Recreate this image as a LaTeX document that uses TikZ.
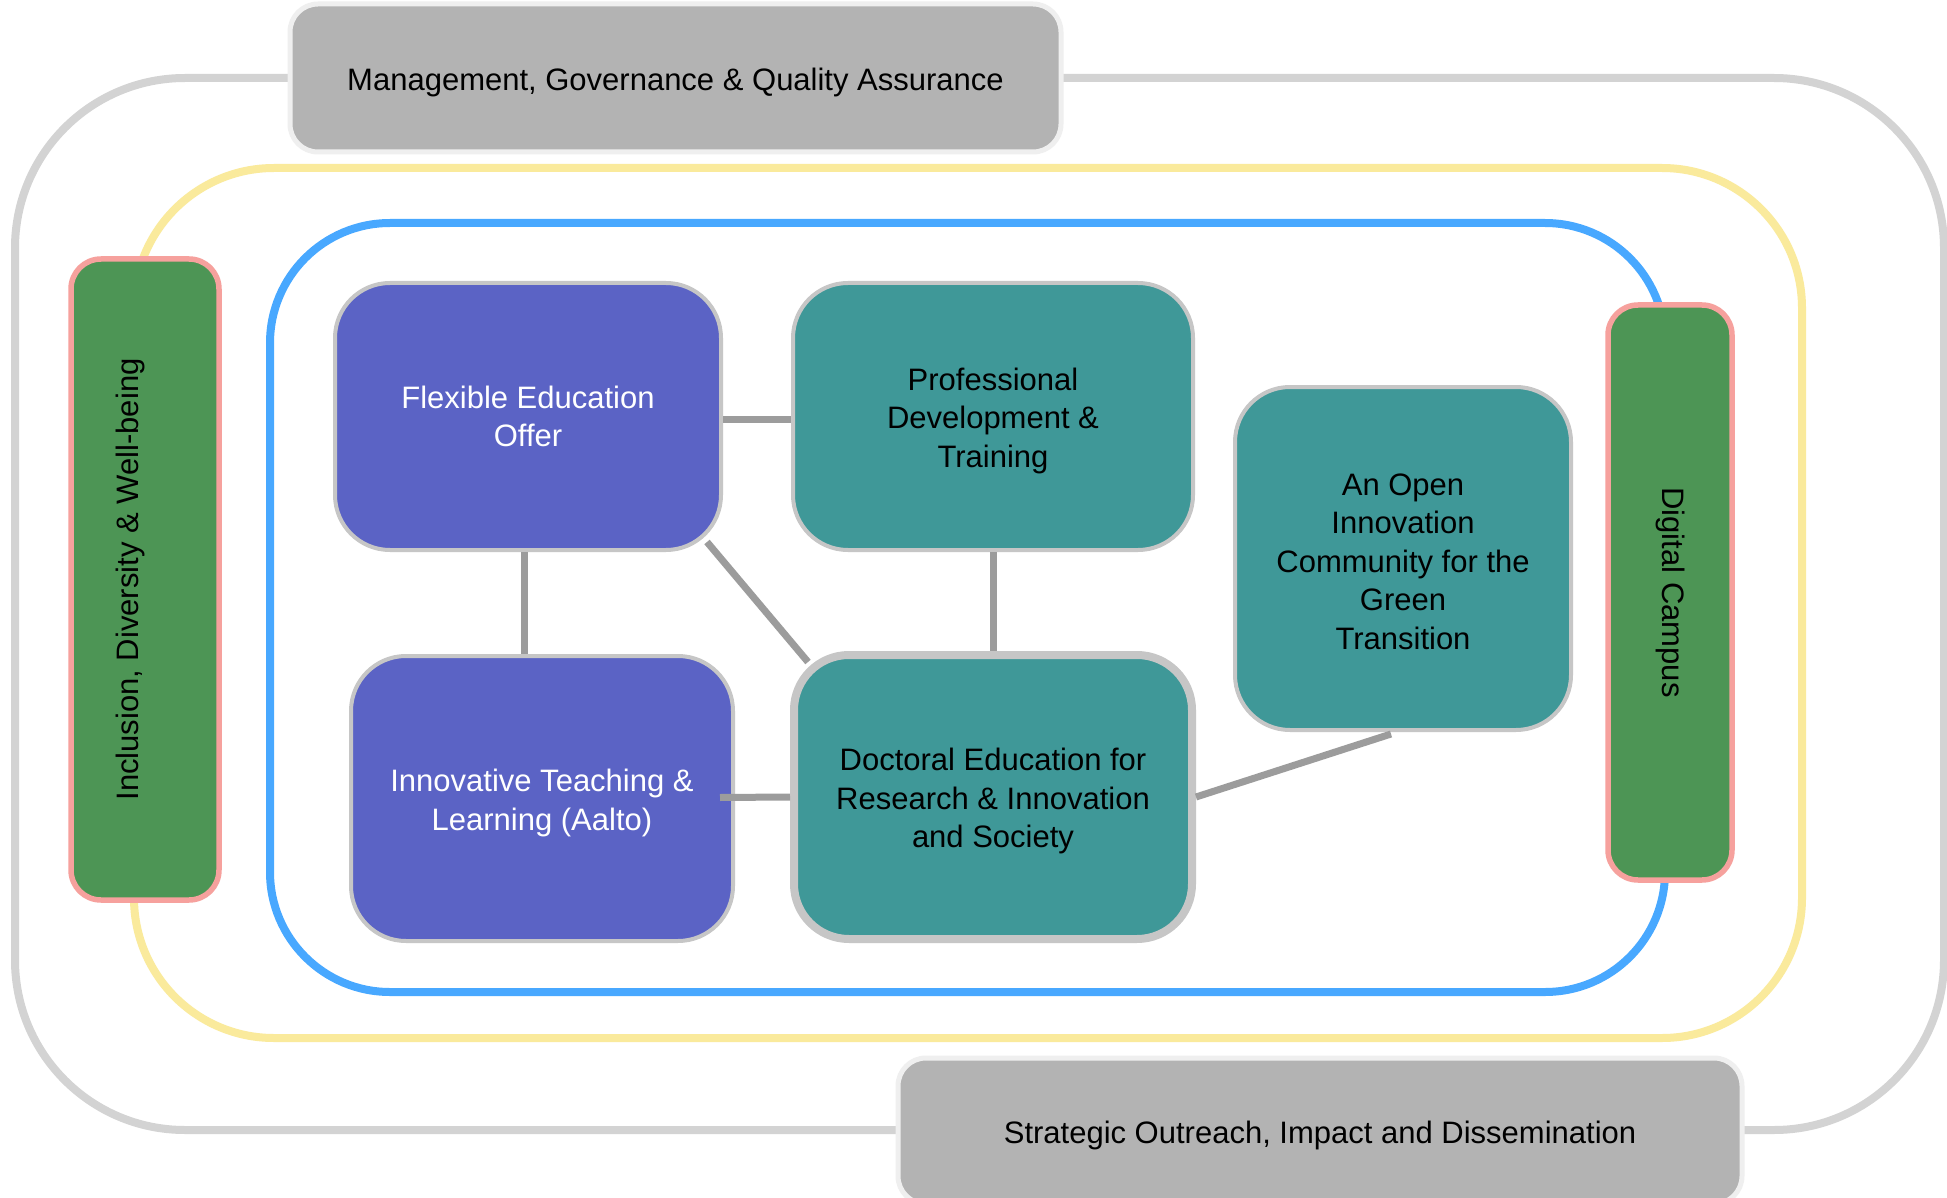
\documentclass[tikz,border=0pt]{standalone}
\usepackage{fontspec}
\setmainfont{Liberation Sans}
\usetikzlibrary{calc}
\definecolor{frameGray}{HTML}{D3D3D3}
\definecolor{frameYellow}{HTML}{FAEA9C}
\definecolor{frameBlue}{HTML}{48A8FF}
\definecolor{purpleFill}{HTML}{5B63C5}
\definecolor{tealFill}{HTML}{3F9898}
\definecolor{greenFill}{HTML}{4D9555}
\definecolor{pinkLine}{HTML}{F6A19D}
\definecolor{boxGray}{HTML}{B3B3B3}
\definecolor{boxGrayLine}{HTML}{EFEFEF}
\definecolor{nodeLine}{HTML}{C6C6C6}
\definecolor{linkGray}{HTML}{9C9C9C}
\newcommand{\liftline}[1][31pt]{\rule{0pt}{#1}}
\tikzset{
  lbl/.style={font=\fontsize{31}{38.5}\selectfont, align=center, inner sep=0pt},
  drop/.style={execute at begin node={\rule{0pt}{31pt}}},
  ring/.style={line width=8pt},
  core/.style={lbl, draw=nodeLine, line width=4pt, rounded corners=55pt},
  purplebox/.style={core, fill=purpleFill, text=white},
  tealbox/.style={core, fill=tealFill, text=black},
  sidebox/.style={draw=pinkLine, fill=greenFill, line width=5.5pt, rounded corners=30pt},
  govbox/.style={lbl, drop, draw=boxGrayLine, fill=boxGray, line width=5pt, rounded corners=28pt},
  link/.style={draw=linkGray, line width=7pt},
}
\begin{document}
\begin{tikzpicture}[x=1pt,y=-1pt]
\useasboundingbox (0,0) rectangle (1947,1198);
\clip (0,0) rectangle (1947,1198);
\fill[white] (0,0) rectangle (1947,1198);
% frames
\draw[ring, frameGray, rounded corners=170pt] (15,78) rectangle (1944,1130);
\draw[ring, frameYellow, rounded corners=140pt] (134,168) rectangle (1802,1038);
\draw[ring, frameBlue, rounded corners=120pt] (270,223) rectangle (1665,992);
% outer boxes
\node[govbox, minimum width=771pt, minimum height=148pt] (mgmt) at (675.5,78) {Management, Governance \& Quality Assurance};
\node[govbox, minimum width=844pt, minimum height=146pt] (outr) at (1320,1131) {Strategic Outreach, Impact and Dissemination};
\node[sidebox, minimum width=148pt, minimum height=641pt] (incl) at (145,579.5) {};
\node[lbl, rotate=90] (inclt) at ($(incl)+(-15,0)$) {Inclusion, Diversity \& Well-being};
\node[sidebox, minimum width=124pt, minimum height=575pt] (digi) at (1670,592.5) {};
\node[lbl, rotate=-90] (digit) at (digi) {Digital Campus};
% core boxes
\node[purplebox, minimum width=386pt, minimum height=267pt] (flex) at (528,416.5) {Flexible Education\\Offer};
\node[tealbox, minimum width=400pt, minimum height=267pt] (prof) at (993,416.5) {\liftline Professional\\Development \&\\Training};
\node[tealbox, minimum width=336pt, minimum height=343pt] (open) at (1403,558.5) {\liftline[28pt]An Open\\Innovation\\Community for the\\Green\\Transition};
\node[purplebox, minimum width=382pt, minimum height=285pt] (inno) at (542,798.5) {\liftline Innovative Teaching \&\\Learning (Aalto)};
\node[tealbox, line width=8pt, minimum width=398pt, minimum height=284pt] (doc) at (993,797) {\liftline Doctoral Education for\\Research \& Innovation\\and Society};
% connectors
\draw[link] ($(flex.east)+(0,3)$) -- ($(prof.west)+(0,3)$);
\coordinate (fs) at ($(flex.south)+(-4,0)$);
\draw[link] (fs) -- (fs |- inno.north);
\draw[link] (prof.south) -- (doc.north);
\draw[link] ($(flex.south east)+(-16,-10)$) -- ($(doc.north west)+(18,11)$);
\draw[link] ($(inno.east)+(-15,-1)$) -- (doc.west);
\draw[link] (doc.east) -- ($(open.south)+(-12,2)$);
\end{tikzpicture}
\end{document}
